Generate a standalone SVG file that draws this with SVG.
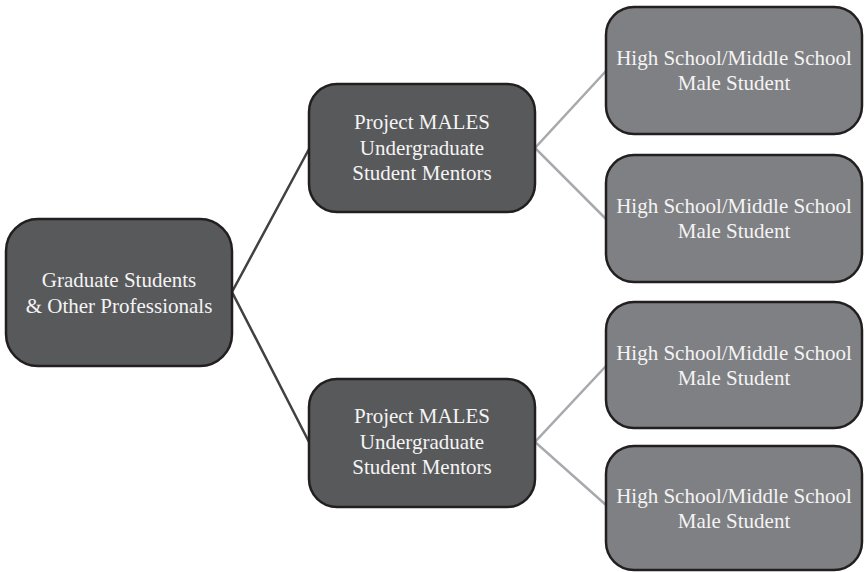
<svg xmlns="http://www.w3.org/2000/svg" width="866" height="572" viewBox="0 0 866 572">
  <style>
    .box { stroke: #231f20; stroke-width: 2.5; }
    .dark { fill: #58595b; }
    .light { fill: #7f8083; }
    .lbl { font-family: "Liberation Serif", "Times New Roman", serif; font-size: 21px; fill: #f4f4f4; text-anchor: middle; }
    .c1 { stroke: #414042; stroke-width: 2.5; fill: none; }
    .c2 { stroke: #a7a9ac; stroke-width: 2.5; fill: none; }
  </style>
  <rect width="866" height="572" fill="#ffffff"/>

  <!-- connectors -->
  <g id="connectors">
    <polyline class="c1" points="309,149 232,292 309,442"/>
    <polyline class="c2" points="606,71 535,148 606,219"/>
    <polyline class="c2" points="606,366 535,442 606,505"/>
  </g>

  <!-- root -->
  <g id="root">
    <rect class="box dark" x="6" y="219" width="226" height="147" rx="32" ry="32"/>
    <text class="lbl" x="119" y="287">Graduate Students</text>
    <text class="lbl" x="119" y="313">&amp; Other Professionals</text>
  </g>

  <!-- mentors -->
  <g id="mentor-1">
    <rect class="box dark" x="309" y="84" width="226" height="128" rx="28" ry="28"/>
    <text class="lbl" x="422" y="129">Project MALES</text>
    <text class="lbl" x="422" y="155">Undergraduate</text>
    <text class="lbl" x="422" y="180">Student Mentors</text>
  </g>
  <g id="mentor-2">
    <rect class="box dark" x="309" y="379" width="226" height="128" rx="28" ry="28"/>
    <text class="lbl" x="422" y="423">Project MALES</text>
    <text class="lbl" x="422" y="449">Undergraduate</text>
    <text class="lbl" x="422" y="474">Student Mentors</text>
  </g>

  <!-- students -->
  <g id="student-1">
    <rect class="box light" x="606" y="7" width="256" height="127" rx="28" ry="28"/>
    <text class="lbl" x="734" y="65">High School/Middle School</text>
    <text class="lbl" x="734" y="90">Male Student</text>
  </g>
  <g id="student-2">
    <rect class="box light" x="606" y="155" width="256" height="127" rx="28" ry="28"/>
    <text class="lbl" x="734" y="213">High School/Middle School</text>
    <text class="lbl" x="734" y="238">Male Student</text>
  </g>
  <g id="student-3">
    <rect class="box light" x="606" y="302" width="256" height="126" rx="28" ry="28"/>
    <text class="lbl" x="734" y="360">High School/Middle School</text>
    <text class="lbl" x="734" y="385">Male Student</text>
  </g>
  <g id="student-4">
    <rect class="box light" x="606" y="446" width="256" height="124" rx="28" ry="28"/>
    <text class="lbl" x="734" y="503">High School/Middle School</text>
    <text class="lbl" x="734" y="528">Male Student</text>
  </g>
</svg>
